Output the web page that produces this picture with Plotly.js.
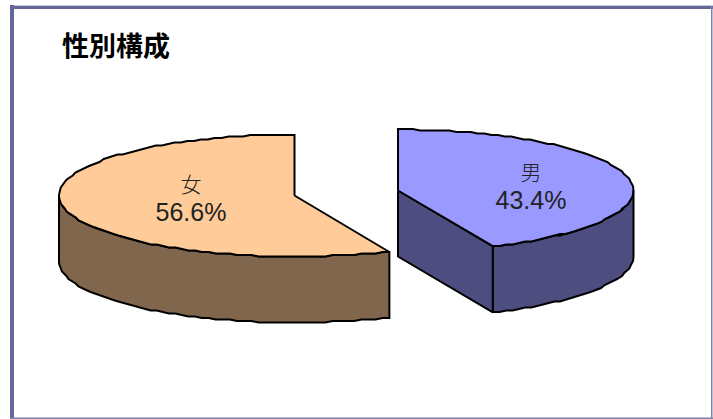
<!DOCTYPE html>
<html><head><meta charset="utf-8">
<script src="https://cdn.plot.ly/plotly-3.0.1.min.js"></script>
<style>html,body{margin:0;padding:0;background:#fff}#c{width:713px;height:419px}</style>
</head><body><div id="c"></div>
<script>
const categories = ["女", "男"];
const shares = [56.6, 43.4];
const topColors = ["#FFCC99", "#9999FF"];
const wallColors = ["#80664D", "#4D4D80"];
const titleText = "性別構成";

// pictorial projection of the exploded 3-D pie
const centers = [[294.5, 195.5], [398, 190.5]];
const rx = 235.5, ry = 61, depth = 66;
const rad = d => d * Math.PI / 180;
const pt = (c, d, dz) => [c[0] + rx * Math.sin(rad(d)), Math.round((c[1] - ry * Math.cos(rad(d)) + (dz || 0)) / 1.5) * 1.5];
function arc(c, a, b, dz) {
  const out = [], n = Math.max(2, Math.round(Math.abs(b - a) / 1.8));
  for (let i = 0; i <= n; i++) out.push(pt(c, a + (b - a) * i / n, dz));
  return out;
}
function poly(points, color, width) {
  return {type: "scatter", mode: "lines", x: points.map(p => p[0]), y: points.map(p => p[1]),
    fill: "toself", fillcolor: color, line: {color: "#000", width: width || 2, shape: "linear"},
    hoverinfo: "skip", showlegend: false};
}
const boundary = 360 * shares[1] / 100;   // male slice runs 0..boundary clockwise from 12 o'clock
const traces = [];

// female wall + top
const f = centers[0];
const fw = arc(f, 270, boundary);
traces.push(poly(fw.concat(arc(f, boundary, 270, depth)).concat([fw[0]]), wallColors[0]));
traces.push(poly([f].concat(arc(f, boundary, 360)).concat([f]), topColors[0]));

// male cut face, wall + top
const m = centers[1];
const mEnd = [m[0] + rx * Math.sin(rad(boundary)), m[1] - ry * Math.cos(rad(boundary))];
traces.push(poly([m, mEnd, [mEnd[0], mEnd[1] + depth], [m[0], m[1] + depth], m], wallColors[1]));
const mw = arc(m, 90, boundary);
traces.push(poly(mw.concat(arc(m, boundary, 90, depth)).concat([mw[0]]), wallColors[1]));
traces.push(poly([m].concat(arc(m, 0, boundary)).concat([m]), topColors[1]));

// labels
const labelX = [191, 531], nameY = [187, 175], pctY = [215, 203];
const lf = {family: "Liberation Sans, 'Noto Sans CJK JP', sans-serif", size: 25, color: "#222"};
traces.push({type: "scatter", mode: "text", x: labelX, y: nameY, text: categories, textposition: "middle center",
  textfont: {family: "'Noto Sans CJK JP', sans-serif", size: 21, color: "#222", weight: 300}, hoverinfo: "skip", showlegend: false});
traces.push({type: "scatter", mode: "text", x: labelX, y: pctY, text: shares.map(v => v.toFixed(1) + "%"), textposition: "middle center",
  textfont: lf, hoverinfo: "skip", showlegend: false});

const frame = "#666699";
const band = (x0, y0, x1, y1, c) => ({type: "rect", xref: "x", yref: "y", x0, y0, x1, y1, fillcolor: c, line: {width: 0}, layer: "below"});
const layout = {
  width: 713, height: 419, margin: {l: 0, r: 0, t: 0, b: 0},
  paper_bgcolor: "#fff", plot_bgcolor: "#fff", showlegend: false,
  xaxis: {range: [0, 713], visible: false, fixedrange: true},
  yaxis: {range: [419, 0], visible: false, fixedrange: true},
  shapes: [
    band(10, 5, 713, 6, "#C8C8DC"),
    band(10, 6, 713, 9, frame),
    band(10, 5, 14, 419, frame),
    band(711, 6, 712.5, 419, "#8080AA"),
    band(10, 417.5, 713, 419, "#8080AA")
  ],
  annotations: [{xref: "x", yref: "y", x: 116, y: 44, text: "<b>" + titleText + "</b>", showarrow: false,
    font: {family: "'Noto Sans CJK JP', sans-serif", size: 27, color: "#000"}}]
};
Plotly.newPlot("c", traces, layout, {displayModeBar: false, staticPlot: true});
</script></body></html>
